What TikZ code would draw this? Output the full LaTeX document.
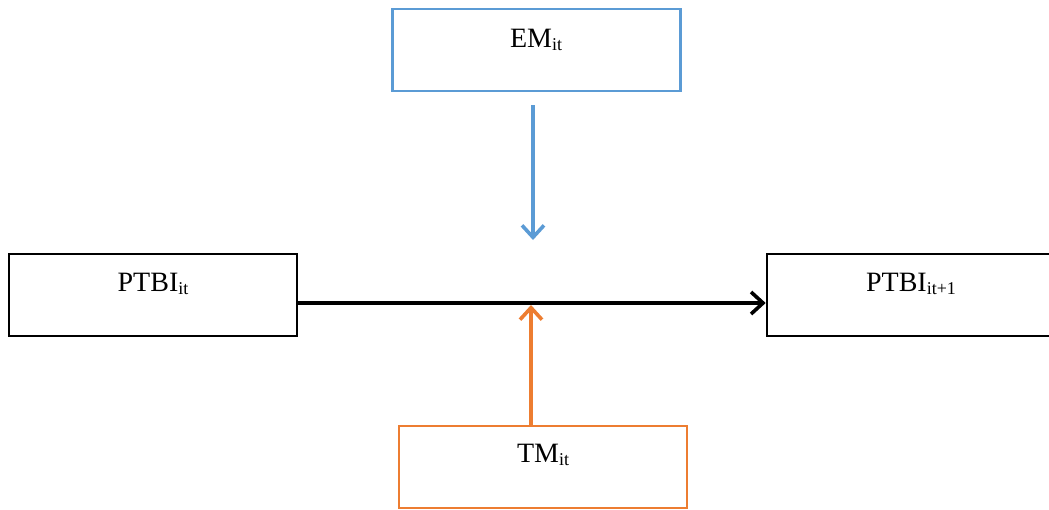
\documentclass[tikz,border=0pt]{standalone}
\usepackage{fontspec}
\setmainfont{Liberation Serif}
\usetikzlibrary{arrows.meta}
\definecolor{emblue}{HTML}{5B9BD5}
\definecolor{tmorange}{HTML}{ED7D31}
\newcommand{\lowit}[1]{\raisebox{-2.5pt}{\fontsize{18}{20}\selectfont #1}}

\begin{document}
\begin{tikzpicture}[x=1pt,y=-1pt]
\tikzstyle{varbox}=[rectangle,draw,line width=2.6pt,minimum width=288pt,minimum height=82pt,inner sep=0pt]
\tikzstyle{varname}=[inner sep=0pt,font=\fontsize{28}{32}\selectfont]
\tikzstyle{link}=[line width=3.6pt,-{Straight Barb[length=12pt,width=22pt,line width=3.6pt]}]
\useasboundingbox (0,0) rectangle (1049,509);
\node[varbox,draw=emblue] (em) at (536.5,50) {};
\node[varbox] (pt) at (153,295) {};
\node[varbox] (ptnext) at (911,295) {};
\node[varbox,draw=tmorange] (tm) at (543,467) {};
\node[varname] (emtxt) at (536,40) {EM\lowit{it}};
\node[varname] (pttxt) at (153,284) {PTBI\lowit{it}};
\node[varname] (ptnexttxt) at (911,284) {PTBI\lowit{it+1}};
\node[varname] (tmtxt) at (543,455) {TM\lowit{it}};
\coordinate (emtip) at (533,240);
\coordinate (tmtip) at (531,305);
\draw[link,emblue] ([shift={(-3.5,13)}]em.south) -- (emtip);
\draw[link,line width=4pt] ([shift={(0,8)}]pt.east) -- ([shift={(0,8)}]ptnext.west);
\draw[link,tmorange] ([shift={(-12,0)}]tm.north) -- (tmtip);
\end{tikzpicture}
\end{document}
